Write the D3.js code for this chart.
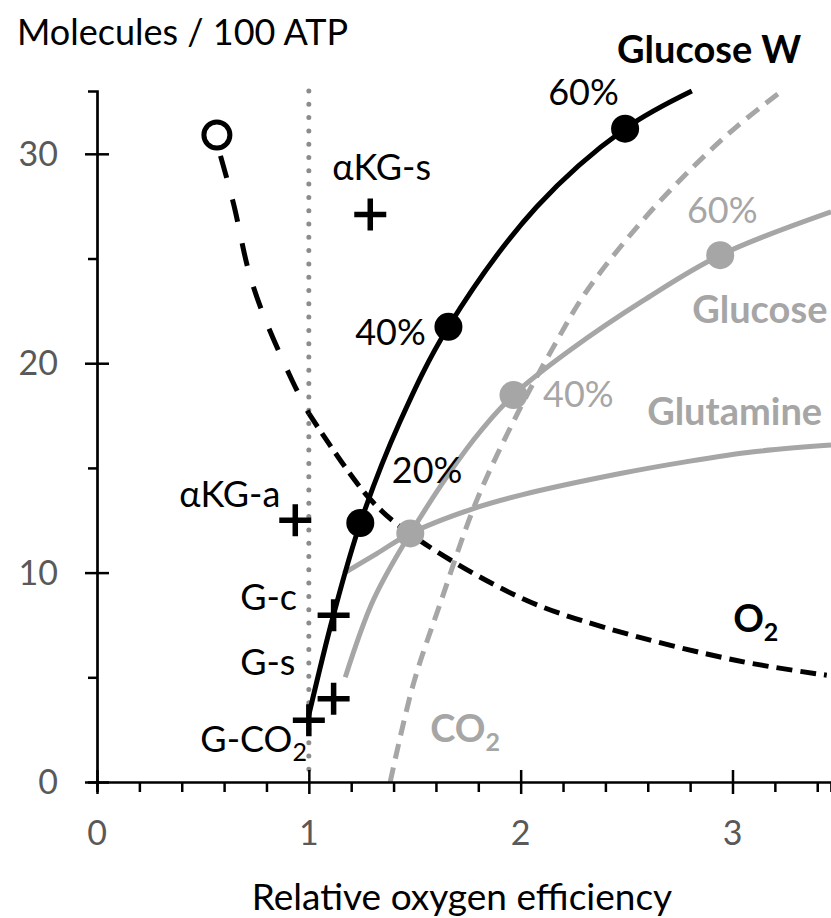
<!DOCTYPE html>
<html>
<head>
<meta charset="utf-8">
<script src="https://cdn.jsdelivr.net/npm/d3@7"></script>
<style>
  body { margin: 0; background: #fff; }
  text { font-family: Lato, "Open Sans", sans-serif; }
</style>
</head>
<body>
<div id="chart"></div>
<script>
// curves: [relative O2 efficiency, molecules / 100 ATP]
var glucoseW = [[1.0,3.2],[1.117,8.0],[1.243,12.37],[1.43,17.2],[1.659,21.74],[2.076,27.47],[2.493,31.2],[2.808,33.0]];
var glucoseWDots = [[1.243,12.37],[1.659,21.74],[2.493,31.2]];
var glucose = [[1.172,5.0],[1.305,8.7],[1.479,11.87],[1.777,16.33],[1.966,18.48],[2.234,20.63],[2.58,23.0],[2.942,25.16],[3.465,27.23]];
var glucoseDots = [[1.479,11.87],[1.966,18.48],[2.942,25.16]];
var glutamine = [[1.164,9.96],[1.321,10.91],[1.479,11.87],[1.777,13.06],[2.0,13.7],[2.47,14.73],[2.785,15.3],[3.10,15.77],[3.465,16.09]];
var co2 = [[1.384,0],[1.494,4.7],[1.62,8.52],[1.793,13.46],[2.0,17.9],[2.155,20.78],[2.304,23.33],[2.564,26.68],[2.815,29.38],[3.02,31.3],[3.233,33.0]];
var o2Left = [[0.583,29.9],[0.645,27.6],[0.716,24.4],[0.786,22.3],[0.92,19.2],[1.0,17.6]];
var o2Right = [[1.0,17.6],[1.29,13.5],[1.5,11.7],[2.0,8.8],[2.39,7.4],[3.02,5.8],[3.445,5.1]];
var crosses = [[1.0,2.95],[1.117,3.98],[1.117,7.96],[0.936,12.5],[1.29,27.1]];
var openCircle = [[0.566,30.9]];

var xTicks = [0,1,2,3];
var yTicks = [0,10,20,30];

var labels = [
  {t:"Glucose W", x:2.455, y:34.34, c:"#000", b:true},
  {t:"60%", x:2.13, y:32.33, c:"#000"},
  {t:"\u03b1KG-s", x:1.11, y:28.75, c:"#000"},
  {t:"60%", x:2.785, y:26.69, c:"#a6a6a6"},
  {t:"Glucose", x:2.81, y:21.92, c:"#a6a6a6", b:true},
  {t:"40%", x:1.219, y:20.86, c:"#000"},
  {t:"40%", x:2.106, y:17.9, c:"#a6a6a6"},
  {t:"Glutamine", x:2.597, y:17.04, c:"#a6a6a6", b:true},
  {t:"20%", x:1.392, y:14.27, c:"#000"},
  {t:"\u03b1KG-a", x:0.388, y:13.12, c:"#000"},
  {t:"G-c", x:0.676, y:8.2, c:"#000"},
  {t:"G-s", x:0.676, y:5.1, c:"#000"},
  {t:"G-CO", sub:"2", x:0.488, y:1.42, c:"#000"},
  {t:"O", sub:"2", x:3.003, y:7.15, c:"#000", b:true},
  {t:"CO", sub:"2", x:1.573, y:1.9, c:"#a6a6a6", b:true}
];

var W = 831, H = 918;
var margin = {top: 91, right: 0, bottom: 136, left: 97};
var width = W - margin.left - margin.right,
    height = H - margin.top - margin.bottom;

var svg = d3.select("#chart").append("svg")
    .attr("width", W)
    .attr("height", H);

var g = svg.append("g")
    .attr("transform", "translate(" + margin.left + "," + margin.top + ")");

var x = d3.scaleLinear().domain([0, 3.465]).range([0, width]);
var y = d3.scaleLinear().domain([0, 33]).range([height, 0]);

// dotted reference line at x = 1
g.append("line")
  .attr("x1", x(1)).attr("x2", x(1))
  .attr("y1", y(33)).attr("y2", y(0))
  .attr("stroke", "#8c8c8c")
  .attr("stroke-width", 5)
  .attr("stroke-linecap", "round")
  .attr("stroke-dasharray", "0,13.3");

var line = d3.line()
  .x(function(d) { return x(d[0]); })
  .y(function(d) { return y(d[1]); })
  .curve(d3.curveCatmullRom.alpha(0.5));

function path(data, color, dash) {
  g.append("path")
    .datum(data)
    .attr("d", line)
    .attr("fill", "none")
    .attr("stroke", color)
    .attr("stroke-width", 5)
    .attr("stroke-dasharray", dash || null);
}

path(glutamine, "#a6a6a6");
path(glucose, "#a6a6a6");
path(co2, "#a6a6a6", "15,9");
path(o2Left, "#000", "23,22");
path(o2Right, "#000", "16,8");
path(glucoseW, "#000");

g.selectAll(".gdot").data(glucoseDots).enter().append("circle")
  .attr("cx", function(d) { return x(d[0]); })
  .attr("cy", function(d) { return y(d[1]); })
  .attr("r", 14)
  .attr("fill", "#a6a6a6");

g.selectAll(".wdot").data(glucoseWDots).enter().append("circle")
  .attr("cx", function(d) { return x(d[0]); })
  .attr("cy", function(d) { return y(d[1]); })
  .attr("r", 14)
  .attr("fill", "#000");

g.selectAll(".cross").data(crosses).enter().append("path")
  .attr("d", function(d) {
    var cx = x(d[0]), cy = y(d[1]), s = 16;
    return "M" + (cx - s) + "," + cy + "H" + (cx + s) + "M" + cx + "," + (cy - s) + "V" + (cy + s);
  })
  .attr("stroke", "#000")
  .attr("stroke-width", 5.5);

g.selectAll(".open").data(openCircle).enter().append("circle")
  .attr("cx", function(d) { return x(d[0]); })
  .attr("cy", function(d) { return y(d[1]); })
  .attr("r", 13)
  .attr("fill", "#fff")
  .attr("stroke", "#000")
  .attr("stroke-width", 5);

// axes
var xAxis = g.append("g")
  .attr("transform", "translate(0," + height + ")")
  .call(d3.axisBottom(x).tickValues(d3.range(0, 3.45, 0.2)).tickSize(10).tickFormat(""));
xAxis.select(".domain").attr("stroke-width", 2.7);
xAxis.selectAll(".tick line").attr("stroke-width", 2.5);
xAxis.selectAll(".tick")
  .filter(function(d) { return Math.abs(d - Math.round(d)) < 1e-6; })
  .select("line").attr("y1", -12).attr("y2", 12);

g.selectAll(".xlab").data(xTicks).enter().append("text")
  .attr("x", function(d) { return x(d); })
  .attr("y", height + 63)
  .attr("text-anchor", "middle")
  .attr("font-size", 34)
  .attr("fill", "#595959")
  .text(function(d) { return d; });

var yAxis = g.append("g")
  .call(d3.axisLeft(y).tickValues([0,5,10,15,20,25,30]).tickSize(9).tickFormat(""));
yAxis.select(".domain").attr("stroke-width", 2.7);
yAxis.selectAll(".tick line").attr("stroke-width", 2.5);
yAxis.selectAll(".tick")
  .filter(function(d) { return d % 10 === 0; })
  .select("line").attr("x1", -12).attr("x2", 12);

g.selectAll(".ylab").data(yTicks).enter().append("text")
  .attr("x", -39)
  .attr("y", function(d) { return y(d); })
  .attr("dy", "0.35em")
  .attr("text-anchor", "end")
  .attr("font-size", 34)
  .attr("fill", "#595959")
  .text(function(d) { return d; });

// annotations
labels.forEach(function(l) {
  var t = g.append("text")
    .attr("x", x(l.x))
    .attr("y", y(l.y))
    .attr("font-size", l.b ? 38 : 36)
    .attr("font-weight", l.b ? "bold" : "normal")
    .attr("fill", l.c)
    .text(l.t);
  if (l.sub) {
    t.append("tspan").attr("dy", 9).attr("font-size", 25).text(l.sub);
  }
});

svg.append("text")
  .attr("x", 17).attr("y", 45)
  .attr("font-size", 36)
  .text("Molecules / 100 ATP");

svg.append("text")
  .attr("x", 462).attr("y", 910)
  .attr("text-anchor", "middle")
  .attr("font-size", 37)
  .text("Relative oxygen efficiency");
</script>
</body>
</html>
